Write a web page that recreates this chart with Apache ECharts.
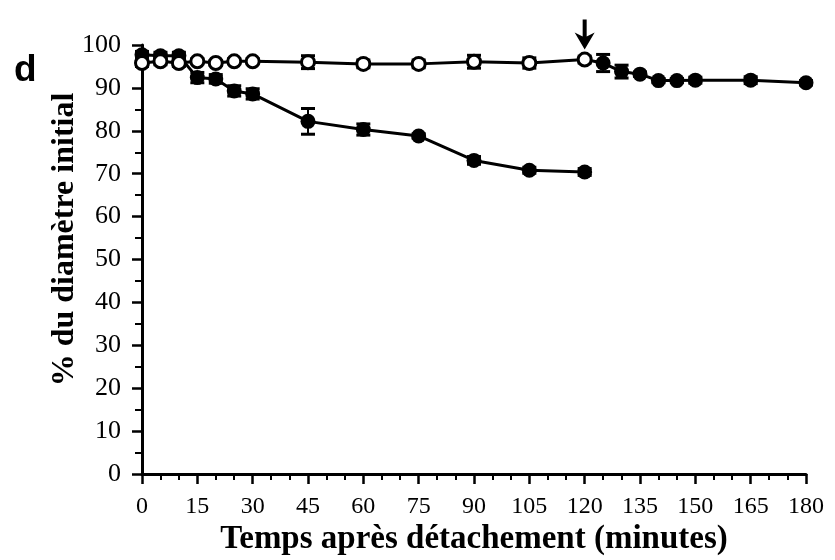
<!DOCTYPE html>
<html>
<head>
<meta charset="utf-8">
<script src="https://cdn.jsdelivr.net/npm/echarts@6/dist/echarts.min.js"></script>
<style>
  html, body { margin: 0; background: #fff; }
  #chart { width: 835px; height: 560px; }
</style>
</head>
<body>
<div id="chart"></div>
<script>
// temps (minutes)
const times = [0, 5, 10, 15, 20, 25, 30, 45, 60, 75, 90, 105, 120];
// témoin (cercles ouverts)
const controlValues = [95.8, 96.2, 95.8, 96.2, 95.8, 96.2, 96.2, 96.0, 95.6, 95.6, 96.1, 95.8, 96.6];
const controlErrors = [0.8, 0.8, 0.8, 0.6, 0.6, 0.6, 0.6, 1.5, 0.9, 0.9, 1.5, 1.2, 0.8];
// détaché (cercles pleins)
const detachedValues = [97.7, 97.5, 97.5, 92.4, 92.1, 89.3, 88.6, 82.2, 80.3, 78.8, 73.1, 70.8, 70.4];
const detachedErrors = [0.8, 0.8, 0.8, 1.2, 1.0, 1.2, 1.2, 3.0, 1.3, 0.5, 0.9, 0.7, 0.8];
// après la flèche (120 min)
const recoveryTimes = [125, 130, 135, 140, 145, 150, 165, 180];
const recoveryValues = [95.8, 93.8, 93.2, 91.7, 91.7, 91.8, 91.8, 91.2];
const recoveryErrors = [2.0, 1.5, 0.5, 0.5, 0.5, 0.7, 0.8, 0.5];

const serif = 'Liberation Serif';

// barres d'erreur dessinées en série custom
function errorBars(xs, ys, es) {
  return {
    type: 'custom',
    data: xs.map((x, i) => [x, ys[i] - es[i], ys[i] + es[i]]),
    encode: { x: 0, y: [1, 2] },
    z: 1,
    silent: true,
    renderItem(params, api) {
      const lo = api.coord([api.value(0), api.value(1)]);
      const hi = api.coord([api.value(0), api.value(2)]);
      const w = 7;
      const st = { stroke: '#000', lineWidth: 3 };
      return {
        type: 'group',
        children: [
          { type: 'line', shape: { x1: lo[0], y1: lo[1], x2: hi[0], y2: hi[1] }, style: { stroke: '#000', lineWidth: 2 } },
          { type: 'line', shape: { x1: lo[0] - w, y1: lo[1], x2: lo[0] + w, y2: lo[1] }, style: st },
          { type: 'line', shape: { x1: hi[0] - w, y1: hi[1], x2: hi[0] + w, y2: hi[1] }, style: st }
        ]
      };
    }
  };
}

const chart = echarts.init(document.getElementById('chart'));

const recoveryData = [[times[times.length - 1], controlValues[controlValues.length - 1]]]
  .concat(recoveryTimes.map((t, i) => [t, recoveryValues[i]]));

chart.setOption({
  animation: false,
  title: {
    text: 'd',
    left: 9,
    top: 47,
    textStyle: { fontFamily: 'Liberation Sans', fontWeight: 'bold', fontSize: 37, color: '#000' }
  },
  grid: { left: 142, right: 29, top: 45, bottom: 86, outerBoundsMode: 'none' },
  xAxis: {
    type: 'value',
    min: 0,
    max: 180,
    interval: 15,
    name: 'Temps après détachement (minutes)',
    nameLocation: 'middle',
    nameGap: 49,
    nameMoveOverlap: false,
    nameTextStyle: { fontFamily: serif, fontWeight: 'bold', fontSize: 33, color: '#000' },
    axisLine: { lineStyle: { color: '#000', width: 3 } },
    axisTick: { length: 10, lineStyle: { color: '#000', width: 2.5 } },
    minorTick: { show: true, splitNumber: 3, length: 6, lineStyle: { color: '#000', width: 2 } },
    axisLabel: { margin: 21, fontFamily: serif, fontSize: 24, color: '#000' },
    splitLine: { show: false }
  },
  yAxis: {
    type: 'value',
    min: 0,
    max: 100,
    interval: 10,
    name: '% du diamètre initial',
    nameLocation: 'middle',
    nameGap: 61,
    nameMoveOverlap: false,
    nameTextStyle: { fontFamily: serif, fontWeight: 'bold', fontSize: 32, color: '#000', padding: [0, 0, 0, 40] },
    axisLine: { show: true, lineStyle: { color: '#000', width: 3 } },
    axisTick: { show: true, length: 10, lineStyle: { color: '#000', width: 2.5 } },
    minorTick: { show: true, splitNumber: 2, length: 7, lineStyle: { color: '#000', width: 2 } },
    axisLabel: { margin: 21, fontFamily: serif, fontSize: 26, color: '#000' },
    splitLine: { show: false }
  },
  series: [
    errorBars(times, detachedValues, detachedErrors),
    errorBars(times, controlValues, controlErrors),
    errorBars(recoveryTimes, recoveryValues, recoveryErrors),
    {
      name: 'détaché',
      type: 'line',
      data: times.map((t, i) => [t, detachedValues[i]]),
      symbol: 'circle',
      symbolSize: 15,
      lineStyle: { color: '#000', width: 3 },
      itemStyle: { color: '#000' },
      z: 3
    },
    {
      name: 'après',
      type: 'line',
      data: recoveryData.map((d, i) => (i === 0 ? { value: d, symbol: 'none' } : d)),
      symbol: 'circle',
      symbolSize: 15,
      lineStyle: { color: '#000', width: 3 },
      itemStyle: { color: '#000' },
      z: 3
    },
    {
      name: 'témoin',
      type: 'line',
      data: times.map((t, i) => [t, controlValues[i]]),
      symbol: 'circle',
      symbolSize: 13,
      lineStyle: { color: '#000', width: 3 },
      itemStyle: { color: '#fff', borderColor: '#000', borderWidth: 3 },
      z: 4,
      markPoint: {
        silent: true,
        symbol: 'path://M4,0 L6,0 L6,17 L10,13 L5,30 L0,13 L4,17 Z',
        symbolSize: [20, 30],
        symbolOffset: [0, -25],
        itemStyle: { color: '#000' },
        label: { show: false },
        data: [{ coord: [times[times.length - 1], controlValues[controlValues.length - 1]] }]
      }
    }
  ]
});
</script>
</body>
</html>
